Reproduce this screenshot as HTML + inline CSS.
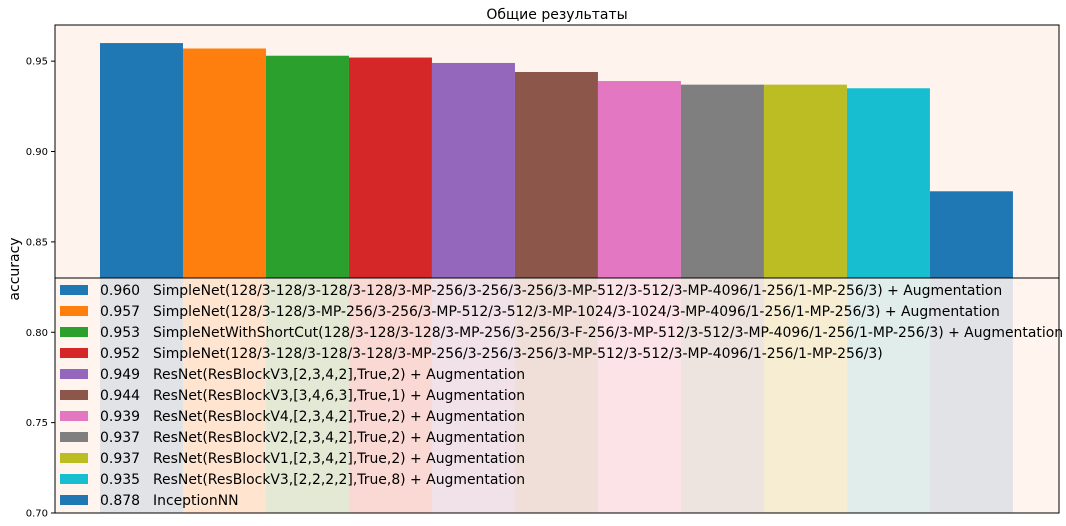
<!DOCTYPE html>
<html><head><meta charset="utf-8"><style>
html,body{margin:0;padding:0;background:#fff;width:1066px;height:526px;overflow:hidden}
svg text{font-family:"DejaVu Sans","Liberation Sans",sans-serif;fill:#000}
</style></head><body>
<svg id="chart" width="1066" height="526" xmlns="http://www.w3.org/2000/svg"></svg>
<script>
const values = [0.960,0.957,0.953,0.952,0.949,0.944,0.939,0.937,0.937,0.935,0.878];
const labels = [
"SimpleNet(128/3-128/3-128/3-128/3-MP-256/3-256/3-256/3-MP-512/3-512/3-MP-4096/1-256/1-MP-256/3) + Augmentation",
"SimpleNet(128/3-128/3-MP-256/3-256/3-MP-512/3-512/3-MP-1024/3-1024/3-MP-4096/1-256/1-MP-256/3) + Augmentation",
"SimpleNetWithShortCut(128/3-128/3-128/3-MP-256/3-256/3-F-256/3-MP-512/3-512/3-MP-4096/1-256/1-MP-256/3) + Augmentation",
"SimpleNet(128/3-128/3-128/3-128/3-MP-256/3-256/3-256/3-MP-512/3-512/3-MP-4096/1-256/1-MP-256/3)",
"ResNet(ResBlockV3,[2,3,4,2],True,2) + Augmentation",
"ResNet(ResBlockV3,[3,4,6,3],True,1) + Augmentation",
"ResNet(ResBlockV4,[2,3,4,2],True,2) + Augmentation",
"ResNet(ResBlockV2,[2,3,4,2],True,2) + Augmentation",
"ResNet(ResBlockV1,[2,3,4,2],True,2) + Augmentation",
"ResNet(ResBlockV3,[2,2,2,2],True,8) + Augmentation",
"InceptionNN"];
const yTicks = [0.70,0.75,0.80,0.85,0.90,0.95];
const colors = ["#1f77b4","#ff7f0e","#2ca02c","#d62728","#9467bd","#8c564b","#e377c2","#7f7f7f","#bcbd22","#17becf","#1f77b4"];

const NS="http://www.w3.org/2000/svg";
const svg=document.getElementById("chart");
const L=55,R=1059,T=25,B=513;
const yMin=0.70,yMax=0.97;
const xMin=-1.042,xMax=11.055;
const y=v=>B-(v-yMin)/(yMax-yMin)*(B-T);
const x=i=>L+(i-xMin)/(xMax-xMin)*(R-L);
function el(tag,attrs,parent){const e=document.createElementNS(NS,tag);for(const k in attrs)e.setAttribute(k,attrs[k]);(parent||svg).appendChild(e);return e;}

const bg=el("rect",{x:L,y:T,width:R-L,height:B-T,fill:"#fef3ed"});



values.forEach((v,i)=>{
  const r=el("rect",{x:x(i-0.5),y:y(v),width:x(i+0.5)-x(i-0.5),height:B-y(v),fill:colors[i]});
  
  
});

// legend
const legTop=278;
const leg=el("g",{});


el("rect",{x:L,y:legTop,width:R-L,height:B-legTop,fill:"#fff4ee","fill-opacity":0.87,stroke:"#000","stroke-width":1},leg);
values.forEach((v,i)=>{
  const cy=legTop+12+i*21;
  const g=el("g",{},leg);
  
  
  el("rect",{x:60,y:cy-5,width:28,height:10,fill:colors[i]},g);
  const t1=el("text",{x:100,y:cy+5,"font-size":14},g);t1.textContent=v.toFixed(3);
  const t2=el("text",{x:153,y:cy+5,"font-size":13.95},g);t2.textContent=labels[i];
});

// axes frame
const fr=el("rect",{x:L,y:T,width:R-L,height:B-T,fill:"none",stroke:"#000","stroke-width":1});



yTicks.forEach(t=>{
  const yy=y(t);
  el("line",{x1:L-4,x2:L,y1:yy,y2:yy,stroke:"#000"});
  const tx=el("text",{x:L-7,y:yy+3.5,"font-size":10,"text-anchor":"end"});
  
  
  tx.textContent=t.toFixed(2);
});

const yt=el("text",{x:19,y:269,"font-size":14,"text-anchor":"middle",transform:"rotate(-90 19 269)"});


yt.textContent="accuracy";

const ti=el("text",{x:(L+R)/2,y:19,"font-size":14,"text-anchor":"middle"});


ti.textContent="Общие результаты";
</script>
</body></html>
